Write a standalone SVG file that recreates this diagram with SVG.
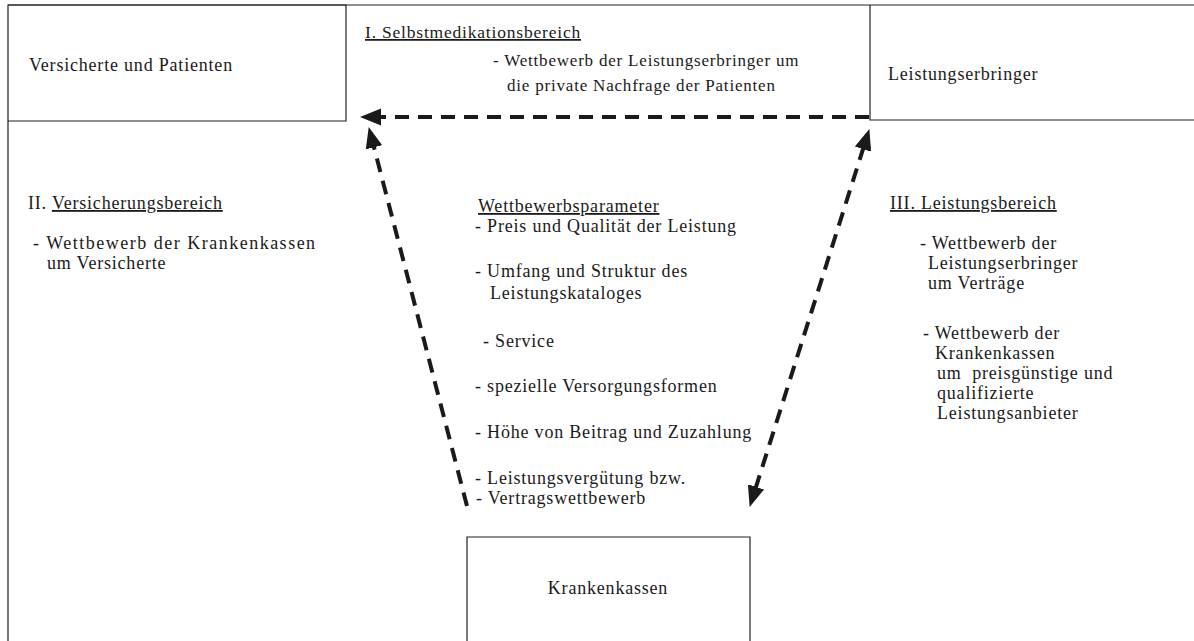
<svg xmlns="http://www.w3.org/2000/svg" width="1194" height="641" viewBox="0 0 1194 641">
<style>
  .frame{fill:none;stroke:#222;stroke-width:1.2}
  .t{font-family:"Liberation Serif","Times New Roman",serif;font-size:18px;letter-spacing:0.8px;fill:#1a1a1a}
  .m{font-size:17px}
  .h{font-size:17.5px}
  .l{letter-spacing:1.5px}
  .u{text-decoration:underline}
  .dash{fill:none;stroke:#1a1a1a;stroke-width:4;stroke-dasharray:14 9}
</style>
<defs>
  <marker id="ah" markerUnits="userSpaceOnUse" markerWidth="24" markerHeight="20" viewBox="0 -10 24 20" refX="2" refY="0" orient="auto-start-reverse">
    <path d="M0,-8.5 L21,0 L0,8.5 z" fill="#1a1a1a"/>
  </marker>
</defs>
<rect width="1194" height="641" fill="#fff"/>
<g id="frame">
  <path class="frame" d="M8,641 V5 H1194"/>
</g>
<g id="versicherte">
  <path class="frame" d="M8,5 H346 V121 H8"/>
  <text class="t" x="29" y="71">Versicherte und Patienten</text>
</g>
<g id="selbstmedikation">
  <text class="t h u" x="365" y="38">I. Selbstmedikationsbereich</text>
  <text class="t m" x="493" y="66">- Wettbewerb der Leistungserbringer um</text>
  <text class="t m" x="507" y="91">die private Nachfrage der Patienten</text>
</g>
<g id="leistungserbringer">
  <path class="frame" d="M870,5 V120 H1194"/>
  <text class="t" x="888" y="80">Leistungserbringer</text>
</g>
<g id="versicherungsbereich">
  <text class="t" x="28" y="209">II. <tspan class="u">Versicherungsbereich</tspan></text>
  <text class="t l" x="33" y="249">- Wettbewerb der Krankenkassen</text>
  <text class="t" x="47" y="269">um Versicherte</text>
</g>
<g id="wettbewerbsparameter">
  <text class="t u" x="478" y="212">Wettbewerbsparameter</text>
  <text class="t" x="475" y="232">- Preis und Qualität der Leistung</text>
  <text class="t" x="475" y="277">- Umfang und Struktur des</text>
  <text class="t" x="490" y="299">Leistungskataloges</text>
  <text class="t" x="483" y="347">- Service</text>
  <text class="t" x="475" y="392">- spezielle Versorgungsformen</text>
  <text class="t" x="475" y="438">- Höhe von Beitrag und Zuzahlung</text>
  <text class="t" x="475" y="484">- Leistungsvergütung bzw.</text>
  <text class="t" x="476" y="504">- Vertragswettbewerb</text>
</g>
<g id="leistungsbereich">
  <text class="t u" x="890" y="209">III. Leistungsbereich</text>
  <text class="t" x="920" y="249">- Wettbewerb der</text>
  <text class="t" x="928" y="269">Leistungserbringer</text>
  <text class="t" x="928" y="289">um Verträge</text>
  <text class="t" x="923" y="339">- Wettbewerb der</text>
  <text class="t" x="935" y="359">Krankenkassen</text>
  <text class="t" x="937" y="379" xml:space="preserve">um  preisgünstige und</text>
  <text class="t" x="937" y="399">qualifizierte</text>
  <text class="t" x="937" y="419">Leistungsanbieter</text>
</g>
<g id="krankenkassen">
  <path class="frame" d="M467,641 V537 H750 V641"/>
  <text class="t" x="608" y="594" text-anchor="middle">Krankenkassen</text>
</g>
<g id="connectors">
  <line class="dash" x1="869" y1="117" x2="379" y2="117" marker-end="url(#ah)"/>
  <line class="dash" x1="467" y1="506" x2="373.5" y2="145.4" marker-end="url(#ah)"/>
  <line class="dash" x1="755.4" y1="488.8" x2="863.6" y2="147.2" marker-start="url(#ah)" marker-end="url(#ah)"/>
</g>
</svg>
